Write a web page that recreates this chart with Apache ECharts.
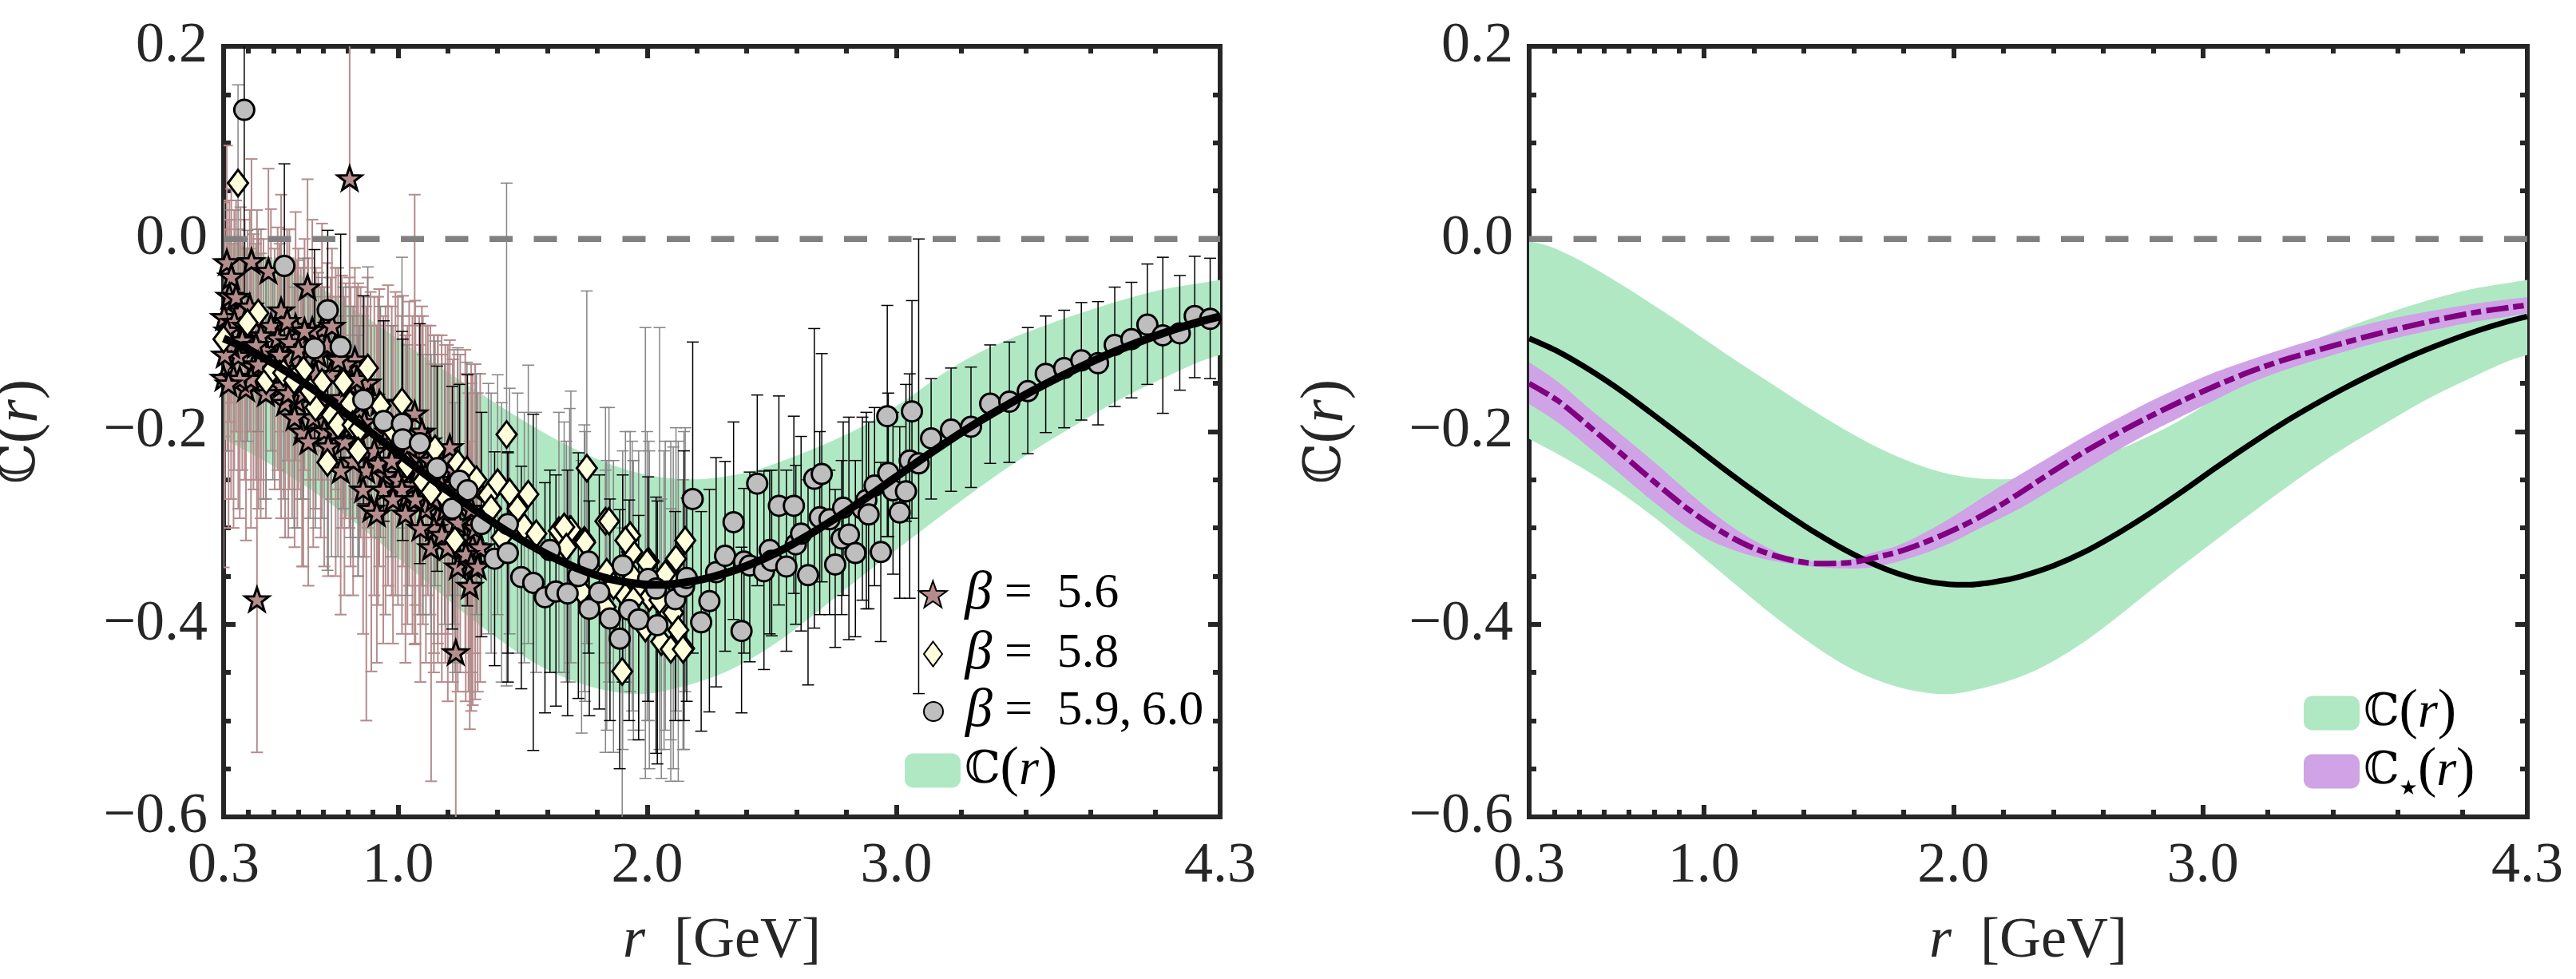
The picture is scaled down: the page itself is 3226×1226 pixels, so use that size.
<!DOCTYPE html>
<html><head><meta charset="utf-8">
<style>html,body{margin:0;padding:0;background:#fff}#c{width:3226px;height:1226px}</style>
<script src="https://cdn.jsdelivr.net/npm/echarts@6/dist/echarts.min.js"></script>
</head><body><div id="c"></div>
<script>
const xLabelTicks=[0.3,1,2,3,4.3];
const xMinorTicks=[0.4,0.5,0.6,0.7,0.8,0.9,1.2,1.4,1.6,1.8,2.2,2.4,2.6,2.8,3.26,3.52,3.78,4.04];
const yLabelTicks=[-0.6,-0.4,-0.2,0,0.2];
const yMinorTicks=[-0.55,-0.5,-0.45,-0.35,-0.3,-0.25,-0.15,-0.1,-0.05,0.05,0.1,0.15];
const zeroLine=[[0.3,0],[4.3,0]];
const bandUpper=[[.3,-.002],[.375,-.007],[.48,-.019],[.61,-.038],[.741,-.059],[.872,-.081],[1.002,-.104],[1.133,-.127],[1.264,-.149],[1.394,-.171],[1.525,-.192],[1.655,-.211],[1.786,-.227],[1.917,-.2395],[2.047,-.247],[2.178,-.2495],[2.256,-.2485],[2.35,-.245],[2.44,-.2395],[2.522,-.2325],[2.629,-.222],[2.735,-.2105],[2.842,-.1975],[2.949,-.182],[3.056,-.164],[3.163,-.144],[3.3,-.1225],[3.44,-.1055],[3.574,-.092],[3.705,-.08],[3.835,-.069],[3.966,-.059],[4.097,-.051],[4.227,-.0455],[4.3,-.0425]];
const bandLower=[[.3,-.2075],[.415,-.2235],[.545,-.243],[.676,-.265],[.806,-.29],[.937,-.3175],[1.068,-.346],[1.198,-.374],[1.329,-.401],[1.46,-.4255],[1.59,-.446],[1.721,-.4605],[1.851,-.4695],[1.982,-.4725],[2.113,-.4665],[2.268,-.4545],[2.399,-.4385],[2.529,-.4175],[2.66,-.392],[2.79,-.365],[2.921,-.3385],[3.052,-.3125],[3.182,-.287],[3.313,-.262],[3.444,-.238],[3.574,-.216],[3.705,-.1955],[3.835,-.1755],[3.966,-.1575],[4.097,-.1415],[4.227,-.1265],[4.3,-.1205]];
const curveC=[[.3,-.1032],[.415,-.1168],[.545,-.1364],[.676,-.159],[.806,-.184],[.937,-.21],[1.068,-.2362],[1.198,-.2612],[1.329,-.285],[1.46,-.307],[1.59,-.3262],[1.721,-.342],[1.851,-.353],[1.982,-.3585],[2.06,-.359],[2.178,-.3555],[2.268,-.3505],[2.399,-.3395],[2.529,-.3245],[2.66,-.3055],[2.79,-.2845],[2.921,-.2615],[3.052,-.2375],[3.182,-.2145],[3.313,-.1925],[3.444,-.1725],[3.574,-.154],[3.705,-.137],[3.835,-.1215],[3.966,-.1078],[4.097,-.0955],[4.227,-.0853],[4.3,-.0805]];
const curveStar=[[.3,-.15],[.415,-.1679],[.545,-.1956],[.676,-.2244],[.806,-.2531],[.937,-.2805],[1.068,-.3035],[1.198,-.3208],[1.329,-.332],[1.46,-.337],[1.59,-.336],[1.655,-.3327],[1.786,-.3242],[1.917,-.3117],[2.047,-.2965],[2.178,-.278],[2.268,-.2635],[2.399,-.2413],[2.529,-.2205],[2.66,-.2015],[2.79,-.184],[2.921,-.1675],[3.052,-.1523],[3.182,-.1385],[3.313,-.1265],[3.444,-.1165],[3.574,-.1072],[3.705,-.0981],[3.835,-.09],[3.966,-.0825],[4.097,-.076],[4.227,-.0712],[4.3,-.0687]];
const bandStarUpper=[[.3,-.1279],[.415,-.1482],[.545,-.177],[.676,-.2045],[.806,-.2328],[.937,-.2625],[1.068,-.2904],[1.198,-.3125],[1.329,-.3285],[1.46,-.335],[1.59,-.3327],[1.655,-.3276],[1.786,-.3174],[1.917,-.3005],[2.047,-.2802],[2.178,-.2585],[2.268,-.2445],[2.399,-.2244],[2.529,-.2045],[2.66,-.1861],[2.79,-.1685],[2.921,-.1525],[3.052,-.138],[3.182,-.1262],[3.313,-.1151],[3.444,-.1045],[3.574,-.0945],[3.705,-.0856],[3.835,-.0785],[3.966,-.0725],[4.097,-.067],[4.227,-.0626],[4.3,-.0606]];
const bandStarLower=[[.3,-.1713],[.415,-.1905],[.545,-.2176],[.676,-.2464],[.806,-.2745],[.937,-.3],[1.068,-.318],[1.198,-.3293],[1.329,-.3365],[1.46,-.3405],[1.59,-.3421],[1.695,-.34],[1.851,-.3293],[1.982,-.3165],[2.113,-.2995],[2.268,-.2795],[2.399,-.2595],[2.529,-.2396],[2.66,-.2193],[2.79,-.2007],[2.921,-.1835],[3.052,-.1668],[3.182,-.1505],[3.313,-.1375],[3.444,-.1265],[3.574,-.1165],[3.705,-.1072],[3.835,-.0992],[3.966,-.0922],[4.097,-.0856],[4.227,-.0805],[4.3,-.0772]];
// rows: r, C, lower cap, upper cap
const beta56=[[.313,-.024,-.16,.097],[.412,-.023,-.14,.083],[.48,-.033,-.15,.073],[.331,-.039,-.17,.052],[.637,-.05,-.15,.062],[.323,-.059,-.19,.04],[.302,-.081,-.205,.038],[.368,-.075,-.21,.033],[.343,-.086,-.24,.03],[.531,-.074,-.2,.046],[.49,-.09,-.22,.031],[.589,-.091,-.23,.028],[.517,-.103,-.24,.012],[.695,-.093,-.22,.016],[.656,-.094,-.21,.02],[.564,-.107,-.26,.01],[.359,-.121,-.28,.01],[.42,-.132,-.26,.005],[.30,-.144,-.341,.0],[.34,-.143,-.3,-.005],[.39,-.155,-.313,-.01],[.449,-.145,-.29,-.015],[.547,-.17,-.31,-.02],[.596,-.168,-.3,-.022],[.62,-.16,-.34,-.03],[.531,-.152,-.29,-.02],[.827,-.125,-.27,-.03],[.704,-.199,-.34,-.05],[.806,.063,-.1,.25],[.434,-.374,-.533,.03],[1.067,-.181,-.421,.046],[.878,-.149,-.3,-.04],[1.232,-.429,-.65,-.23],[1.288,-.36,-.509,-.21],[.893,-.28,-.449,-.09],[1.133,-.32,-.563,-.13],[1.283,-.332,-.47,-.16],[1.30,-.319,-.484,-.14],[1.16,-.289,-.44,-.1],[1.038,-.266,-.4,-.09],[.75,-.11,-.26,-.03],[.73,-.14,-.27,-.04],[.68,-.12,-.25,-.035],[.775,-.165,-.3,-.038],[.61,-.135,-.27,-.03],[.79,-.13,-.29,-.046],[.85,-.17,-.31,-.05],[.84,-.205,-.35,-.046],[.925,-.17,-.34,-.052],[.96,-.2,-.36,-.048],[.99,-.215,-.37,-.055],[.905,-.22,-.37,-.06],[.873,-.24,-.5,-.07],[.95,-.245,-.39,-.07],[1.0,-.25,-.38,-.06],[1.02,-.19,-.34,-.059],[1.069,-.225,-.38,-.064],[1.096,-.2,-.36,-.07],[1.1,-.25,-.4,-.08],[1.058,-.255,-.41,-.08],[1.112,-.28,-.44,-.09],[1.144,-.3,-.45,-.1],[1.13,-.23,-.39,-.09],[1.16,-.25,-.42,-.1],[1.208,-.216,-.37,-.105],[1.19,-.28,-.44,-.11],[1.22,-.31,-.46,-.125],[1.25,-.29,-.45,-.12],[1.27,-.26,-.43,-.115],[1.31,-.3,-.478,-.13],[1.33,-.32,-.46,-.14],[1.24,-.34,-.47,-.15],[.46,-.115,-.27,.0],[.64,-.115,-.25,-.02],[.615,-.2,-.34,-.05],[.66,-.185,-.32,-.05],[.575,-.14,-.29,-.03],[.75,-.2,-.35,-.06],[.82,-.23,-.37,-.07],[.77,-.24,-.39,-.08],[.385,-.09,-.25,.02],[.45,-.1,-.25,.01],[.33,-.11,-.27,.02],[.47,-.16,-.29,-.02],
[.315,-.095,-.22,.02],[.35,-.06,-.2,.04],[.375,-.105,-.24,.0],[.405,-.07,-.2,.03],[.43,-.11,-.25,-.005],[.505,-.125,-.26,-.01],[.555,-.085,-.23,.01],[.6,-.115,-.26,-.01],[.625,-.095,-.24,.0],[.67,-.14,-.28,-.03],[.715,-.11,-.25,-.025],[.735,-.09,-.24,-.01],[.76,-.125,-.27,-.03],[.805,-.15,-.3,-.04],[.835,-.145,-.29,-.05],[.865,-.19,-.33,-.06],[.89,-.165,-.31,-.055],[.92,-.233,-.38,-.06],[.941,-.26,-.42,-.08],[.975,-.23,-.37,-.07],[1.016,-.26,-.41,-.08],[1.045,-.215,-.36,-.065],[1.07,-.27,-.42,-.09],[1.085,-.24,-.39,-.08],[1.12,-.21,-.37,-.09],[1.145,-.27,-.43,-.1],[1.176,-.307,-.46,-.12],[1.2,-.26,-.41,-.11],[1.225,-.24,-.4,-.115],[1.24,-.294,-.44,-.12],[1.272,-.327,-.48,-.14],[1.294,-.338,-.49,-.15],[1.294,-.28,-.45,-.13],[1.32,-.34,-.47,-.16],[1.31,-.26,-.43,-.13],[.56,-.16,-.31,-.02],[.525,-.12,-.26,-.005],[.44,-.13,-.28,.0],[.41,-.145,-.3,-.01],[.365,-.145,-.29,.0],[.305,-.12,-.27,.01],[.32,-.15,-.3,-.02],[.585,-.185,-.32,-.03],[.64,-.21,-.36,-.05],[.69,-.17,-.31,-.05],[.72,-.215,-.35,-.06],[.785,-.21,-.37,-.06],[.81,-.195,-.34,-.05],[.86,-.26,-.41,-.08],[.915,-.285,-.44,-.09],[.98,-.27,-.42,-.09],[1.03,-.285,-.44,-.1],[1.09,-.3,-.46,-.11],[1.175,-.255,-.41,-.1],[1.2,-.32,-.48,-.13]];
const beta58=[[.358,.058,-.07,.16],[.439,-.077,-.2,.01],[.396,-.087,-.21,.009],[.30,-.104,-.22,.03],[.471,-.147,-.27,-.02],[.621,-.136,-.27,-.02],[.498,-.135,-.25,-.03],[.54,-.139,-.27,-.03],[.583,-.147,-.3,-.05],[.695,-.149,-.29,-.04],[.781,-.149,-.28,-.05],[.879,-.134,-.26,-.029],[1.016,-.169,-.3,-.019],[.93,-.173,-.31,-.07],[.669,-.175,-.3,-.06],[.733,-.183,-.33,-.07],[.759,-.193,-.33,-.08],[.808,-.171,-.31,-.07],[.818,-.193,-.33,-.08],[.845,-.197,-.33,-.09],[.84,-.22,-.35,-.1],[.717,-.232,-.344,-.11],[.647,-.158,-.29,-.06],[.973,-.197,-.33,-.09],[1.149,-.218,-.36,-.106],[1.24,-.233,-.37,-.113],[1.277,-.24,-.38,-.128],[1.315,-.25,-.39,-.14],[1.363,-.266,-.41,-.15],[1.4,-.253,-.39,-.141],[1.448,-.263,-.41,-.155],[1.523,-.265,-.42,-.131],[1.48,-.28,-.43,-.16],[1.374,-.28,-.43,-.16],[1.187,-.267,-.4,-.13],[1.1,-.252,-.39,-.12],[1.133,-.263,-.41,-.12],[1.037,-.235,-.37,-.11],[1.507,-.299,-.44,-.18],[1.555,-.306,-.45,-.18],[1.229,-.313,-.45,-.17],[1.416,-.31,-.46,-.17],[1.646,-.303,-.45,-.18],[1.689,-.302,-.46,-.176],[1.748,-.313,-.47,-.193],[1.833,-.293,-.44,-.175],[1.436,-.203,-.464,.058],[1.758,-.238,-.42,-.054],[1.847,-.293,-.46,-.175],[1.932,-.308,-.47,-.2],[1.694,-.302,-.44,-.158],[1.667,-.299,-.45,-.19],[1.751,-.315,-.48,-.2],[1.676,-.32,-.46,-.21],[2.007,-.335,-.5,-.21],[1.94,-.325,-.49,-.21],[2.116,-.332,-.49,-.196],[2.153,-.313,-.47,-.196],[1.838,-.346,-.51,-.23],[1.945,-.352,-.51,-.23],[1.737,-.366,-.513,-.23],[1.902,-.367,-.53,-.22],[1.966,-.368,-.51,-.22],[2.009,-.372,-.55,-.22],[2.095,-.352,-.52,-.21],[2.073,-.348,-.51,-.21],[1.865,-.36,-.533,-.23],[1.833,-.382,-.533,-.24],[1.945,-.375,-.52,-.23],[2.068,-.382,-.53,-.22],[2.105,-.388,-.55,-.216],[2.125,-.406,-.563,-.21],[2.057,-.418,-.56,-.27],[2.095,-.426,-.563,-.28],[2.148,-.425,-.53,-.2],[1.993,-.404,-.56,-.092],[1.913,-.313,-.46,-.2],[1.9,-.449,-.65,-.3],[2.0,-.336,-.5,-.2],[2.05,-.375,-.53,-.092],[2.144,-.426,-.53,-.25]];
const beta6=[[.383,.134,-.06,.25],[.544,-.028,-.14,.078],[.665,-.1135,-.215,-.011],[.718,-.074,-.17,.009],[.77,-.112,-.229,.005],[.861,-.167,-.275,-.059],[.943,-.189,-.293,-.085],[1.016,-.192,-.286,-.096],[1.019,-.208,-.313,-.104],[1.088,-.212,-.337,-.088],[1.157,-.238,-.345,-.132],[1.218,-.28,-.405,-.153],[1.247,-.251,-.345,-.151],[1.279,-.261,-.381,-.141],[1.335,-.296,-.413,-.18],[1.388,-.332,-.443,-.221],[1.441,-.296,-.43,-.222],[1.441,-.326,-.46,-.221],[1.495,-.351,-.467,-.236],[1.543,-.357,-.531,-.182],[1.59,-.372,-.492,-.253],[1.61,-.323,-.45,-.24],[1.634,-.366,-.485,-.245],[1.681,-.368,-.495,-.24],[1.724,-.35,-.477,-.222],[1.765,-.335,-.43,-.238],[1.768,-.384,-.495,-.272],[1.808,-.367,-.488,-.245],[1.851,-.394,-.5,-.27],[1.89,-.415,-.55,-.281],[1.902,-.339,-.46,-.245],[1.928,-.385,-.5,-.271],[1.966,-.395,-.52,-.287],[2.004,-.353,-.48,-.247],[2.036,-.363,-.534,-.268],[2.041,-.401,-.545,-.272],[2.113,-.374,-.5,-.283],[2.148,-.361,-.5,-.22],[2.159,-.352,-.48,-.269],[2.183,-.27,-.43,-.107],[2.217,-.398,-.511,-.283],[2.25,-.376,-.491,-.26],[2.277,-.346,-.465,-.227],[2.313,-.329,-.428,-.231],[2.347,-.294,-.395,-.19],[2.379,-.407,-.492,-.32],[2.389,-.335,-.43,-.259],[2.412,-.339,-.439,-.242],[2.442,-.254,-.36,-.162],[2.469,-.345,-.447,-.241],[2.492,-.323,-.41,-.24],[2.5,-.334,-.412,-.24],[2.529,-.277,-.38,-.163],[2.559,-.34,-.428,-.24],[2.589,-.277,-.368,-.184],[2.597,-.317,-.4,-.235],[2.618,-.306,-.407,-.205],[2.646,-.349,-.463,-.25],[2.671,-.249,-.404,-.093],[2.701,-.244,-.356,-.119],[2.693,-.289,-.39,-.2],[2.732,-.291,-.39,-.24],[2.755,-.338,-.424,-.26],[2.787,-.279,-.37,-.19],[2.781,-.311,-.39,-.23],[2.81,-.307,-.416,-.185],[2.836,-.326,-.413,-.23],[2.864,-.28,-.375,-.185],[2.88,-.271,-.384,-.18],[2.889,-.286,-.384,-.19],[2.913,-.256,-.36,-.175],[2.938,-.325,-.418,-.232],[2.968,-.243,-.309,-.16],[2.964,-.184,-.309,-.069],[2.987,-.261,-.348,-.18],[3.014,-.284,-.373,-.195],[3.039,-.262,-.293,-.151],[3.054,-.23,-.373,-.14],[3.063,-.179,-.29,-.064],[3.09,-.233,-.472,0],[3.14,-.207,-.27,-.145],[3.22,-.198,-.262,-.134],[3.3,-.195,-.258,-.133],[3.377,-.171,-.233,-.11],[3.454,-.169,-.232,-.107],[3.528,-.158,-.223,-.092],[3.6,-.14,-.201,-.08],[3.674,-.134,-.196,-.074],[3.743,-.126,-.188,-.066],[3.81,-.129,-.193,-.065],[3.877,-.11,-.174,-.05],[3.944,-.104,-.165,-.045],[4.008,-.089,-.151,-.026],[4.07,-.1,-.181,-.019],[4.138,-.098,-.157,-.038],[4.198,-.08,-.144,-.018],[4.26,-.083,-.145,-.02]];
const legendNames=['β = 5.6','β = 5.8','β = 5.9, 6.0','ℂ(r)','ℂ⋆(r)'];

const INK='#262626', SERIF="'Liberation Serif','DejaVu Serif',serif";
const MATH="'DejaVu Serif','Liberation Serif',serif";
const STAR='path://M0,-10 L2.35,-3.24 9.51,-3.09 3.8,1.24 5.88,8.09 0,4 -5.88,8.09 -3.8,1.24 -9.51,-3.09 -2.35,-3.24 Z';
const DIAMOND='path://M0,-7 L5.2,0 0,7 -5.2,0 Z';
const C_BAND='#B0E8C4',C_PURPLE='#CFA3E6';
const grids=[{left:280,top:58,width:1248,height:965,outerBoundsMode:'none'},{left:1915,top:58,width:1250,height:965,outerBoundsMode:'none'}];
const nameRich={i:{fontFamily:SERIF,fontStyle:'italic',fontSize:72,color:INK},n:{fontFamily:SERIF,fontSize:72,color:INK},c:{fontFamily:MATH,fontSize:64,color:INK},p:{fontFamily:SERIF,fontSize:76,color:INK},q:{fontFamily:SERIF,fontStyle:'italic',fontSize:76,color:INK}};
const fmt=v=>(v<0?'\u2212':'')+Math.abs(v).toFixed(1);
const xAxes=[],yAxes=[];
grids.forEach((g,gi)=>{
  const xb={type:'value',gridIndex:gi,min:.3,max:4.3,splitLine:{show:false},axisLine:{show:false,onZero:false}};
  const line={show:true,onZero:false,lineStyle:{color:INK,width:6,cap:'square'}};
  const major={show:true,inside:true,length:15,lineStyle:{color:INK,width:6},customValues:xLabelTicks};
  const minor={show:true,inside:true,length:9,lineStyle:{color:INK,width:6},customValues:xMinorTicks};
  xAxes.push({...xb,position:'bottom',axisLine:line,axisTick:major,axisLabel:{show:true,customValues:xLabelTicks,margin:26,formatter:fmt,fontFamily:SERIF,fontSize:72,color:INK},name:'{i|r}{n|\u00a0\u00a0[GeV]}',nameLocation:'middle',nameGap:120,nameTextStyle:{rich:nameRich}});
  xAxes.push({...xb,position:'top',axisLine:line,axisTick:major,axisLabel:{show:false}});
  xAxes.push({...xb,position:'top',axisTick:minor,axisLabel:{show:false}});
  xAxes.push({...xb,position:'bottom',axisTick:minor,axisLabel:{show:false}});
  const yb={type:'value',gridIndex:gi,min:-.6,max:.2,interval:.2,splitLine:{show:false},axisLine:{show:false,onZero:false}};
  const ymajor={...major,customValues:yLabelTicks},yminor={...minor,customValues:yMinorTicks};
  yAxes.push({...yb,position:'left',axisLine:line,axisTick:ymajor,axisLabel:{show:true,customValues:yLabelTicks,margin:20,formatter:fmt,fontFamily:SERIF,fontSize:72,color:INK},name:'{c|ℂ}{p|(}{q|r}{p|)}',nameLocation:'middle',nameGap:216,nameTextStyle:{rich:nameRich}});
  yAxes.push({...yb,position:'right',axisLine:line,axisTick:ymajor,axisLabel:{show:false}});
  yAxes.push({...yb,position:'right',axisTick:yminor,axisLabel:{show:false}});
  yAxes.push({...yb,position:'left',axisTick:yminor,axisLabel:{show:false}});
});
const ax=gi=>({xAxisIndex:gi*4,yAxisIndex:gi*4});
const bandSeries=(gi,name,up,lo,color)=>({...ax(gi),type:'custom',name,data:up,clip:true,silent:true,itemStyle:{color},encode:{x:0,y:1},
  renderItem:(p,api)=>{ if(p.dataIndex) return null;
    const a=up.map(d=>api.coord(d)),b=lo.slice().reverse().map(d=>api.coord(d));
    const dup=arr=>[arr[0],...arr,arr[arr.length-1]];
    return {type:'polygon',shape:{points:dup(a).concat(dup(b)),smooth:.35},style:{fill:color}};}});
const errSeries=(rows,color,w)=>({...ax(0),type:'custom',data:rows,clip:true,silent:true,encode:{x:0,y:[2,3]},
  renderItem:(p,api)=>{const r=api.value(0),a=api.coord([r,api.value(2)]),b=api.coord([r,api.value(3)]),s={stroke:color,lineWidth:w},h=7.5;
    const sg=(x1,y1,x2,y2)=>({type:'line',shape:{x1,y1,x2,y2},style:s});
    return {type:'group',children:[sg(a[0],a[1],b[0],b[1]),sg(a[0]-h,a[1],a[0]+h,a[1]),sg(b[0]-h,b[1],b[0]+h,b[1])]};}});
const scat=(name,rows,symbol,size,color)=>({...ax(0),type:'scatter',name,data:rows,symbol,symbolSize:size,encode:{x:0,y:1},clip:true,silent:true,itemStyle:{color,borderColor:'#000',borderWidth:3,opacity:1}});
const line=(gi,data,color,width,type,name,smooth)=>({...ax(gi),type:'line',name,data,symbol:'none',smooth:smooth?.3:false,silent:true,lineStyle:{color,width,type,cap:'butt'},clip:true});
const legRich={b:{fontFamily:SERIF,fontStyle:'italic',fontSize:68,color:'#000',lineHeight:70},t:{fontFamily:SERIF,fontSize:62,color:'#000',lineHeight:70},c:{fontFamily:MATH,fontSize:56,color:'#000',lineHeight:70},s:{fontFamily:"'DejaVu Sans'",fontSize:26,color:'#000',verticalAlign:'bottom',lineHeight:54},i:{fontFamily:SERIF,fontStyle:'italic',fontSize:64,color:'#000',lineHeight:70},p:{fontFamily:SERIF,fontSize:70,color:'#000',lineHeight:70}};
const legFmt=n=>{if(n[0]==='β')return '{b|β}{t|\u00a0=\u00a0\u00a0'+n.slice(4).replace(', ',',\u2009')+'}';
  return n.includes('⋆')?'{c|ℂ}{s|★}{p|(}{i|r}{p|)}':'{c|ℂ}{p|(}{i|r}{p|)}';};
const leg=(name,left,top,h,w)=>({data:[name],left,top,itemWidth:w||70,itemHeight:h,padding:0,selectedMode:false,formatter:legFmt,textStyle:{rich:legRich}});
const option={animation:false,backgroundColor:'#fff',grid:grids,xAxis:xAxes,yAxis:yAxes,
 legend:[leg(legendNames[0],1150,710,33),leg(legendNames[1],1156,785,31),leg(legendNames[2],1156,857,24),leg(legendNames[3],1133,930,43),
         leg(legendNames[3]+' ',2885,858,43),leg(legendNames[4],2885,931,43)],
 series:[
  bandSeries(0,legendNames[3],bandUpper,bandLower,C_BAND),
  errSeries(beta56,'#B58C8C',2),
  scat(legendNames[0],beta56,STAR,[30,29],'#B58C8C'),
  errSeries(beta58,'#858585',1.5),
  scat(legendNames[1],beta58,DIAMOND,[25,33],'#FFFFDC'),
  errSeries(beta6,'#000',1.5),
  scat(legendNames[2],beta6,'circle',25,'#BEBEBE'),
  line(0,zeroLine,'#808080',7.5,[29,26.5]),
  line(0,curveC,'#000',10,'solid',undefined,true),
  bandSeries(1,legendNames[3]+' ',bandUpper,bandLower,C_BAND),
  bandSeries(1,legendNames[4],bandStarUpper,bandStarLower,C_PURPLE),
  line(1,zeroLine,'#808080',7.5,[29,26.5]),
  line(1,curveC,'#000',7,'solid',undefined,true),
  line(1,curveStar,'#800080',7,[28,6,13,6.5],undefined,true)
 ]};
echarts.init(document.getElementById('c'),null,{renderer:'canvas'}).setOption(option);
</script></body></html>
